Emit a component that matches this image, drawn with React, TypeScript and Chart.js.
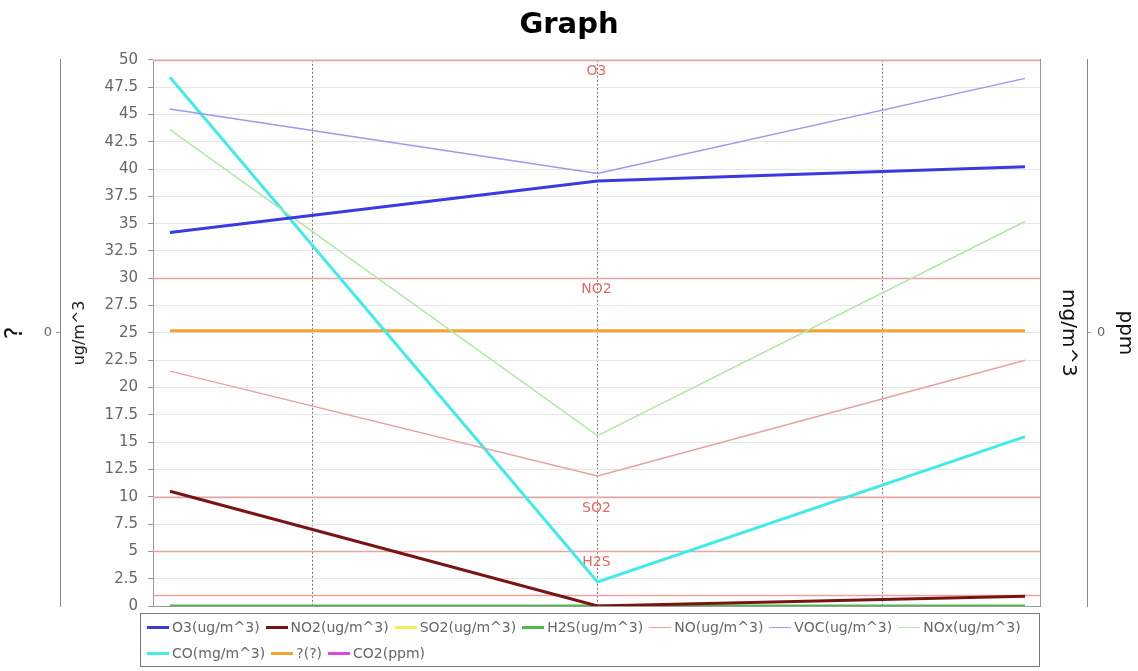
import React, { useEffect, useRef } from "react";
import { Chart, registerables } from "chart.js";

Chart.register(...registerables);

const FONT = "'DejaVu Sans', sans-serif";

// Sample positions along the (unlabelled) horizontal axis and its grid ticks
const xValues = [0, 3, 6];
const xGridTicks = [1, 3, 5];

// Series
const seriesNames = [
  "O3(ug/m^3)",
  "NO2(ug/m^3)",
  "SO2(ug/m^3)",
  "H2S(ug/m^3)",
  "NO(ug/m^3)",
  "VOC(ug/m^3)",
  "NOx(ug/m^3)",
  "CO(mg/m^3)",
  "?(?)",
  "CO2(ppm)",
];
const o3 = [34.2, 38.9, 40.2];
const no2 = [10.5, 0, 0.9];
const so2: (number | null)[] = [null, null, null];
const h2s = [0, 0, 0];
const no = [21.5, 11.9, 22.5];
const voc = [45.5, 39.6, 48.3];
const nox = [43.6, 15.6, 35.2];
const co = [48.4, 2.2, 15.5];
const unknown = [25.2, 25.2, 25.2];
const co2: (number | null)[] = [null, null, null];
const seriesValues = [o3, no2, so2, h2s, no, voc, nox, co, unknown, co2];

const seriesColors = [
  "#3a3ae0",
  "#7a1414",
  "#f2ee5a",
  "#4cbb4c",
  "#eaa0a0",
  "#9a9aec",
  "#b4e6ac",
  "#46e8e8",
  "#f2a534",
  "#e044e0",
];
const seriesWidths = [3, 3, 3, 3, 1.5, 1.5, 1.5, 3, 3, 3];

// Threshold markers on the main axis
const thresholdValues = [50, 30, 10, 5, 1];
const thresholdLabels = ["O3", "NO2", "SO2", "H2S", ""];

// Axis settings
const yMin = 0;
const yMax = 50;
const yStep = 2.5;

const framePlugin = {
  id: "frame",
  beforeDatasetsDraw(chart: any) {
    const { ctx, chartArea } = chart;
    ctx.save();
    ctx.strokeStyle = "#999";
    ctx.lineWidth = 1;
    ctx.strokeRect(
      Math.round(chartArea.left) + 0.5,
      Math.round(chartArea.top) + 0.5,
      Math.round(chartArea.right - chartArea.left),
      Math.round(chartArea.bottom - chartArea.top)
    );
    ctx.restore();
  },
};

const thresholdPlugin = {
  id: "thresholds",
  beforeDatasetsDraw(chart: any) {
    const { ctx, chartArea, scales } = chart;
    const y = scales.y;
    ctx.save();
    thresholdValues.forEach((v, i) => {
      const py = Math.round(y.getPixelForValue(v)) + 0.5;
      ctx.strokeStyle = "#e8a4a4";
      ctx.lineWidth = 1.5;
      ctx.beginPath();
      ctx.moveTo(chartArea.left, py);
      ctx.lineTo(chartArea.right, py);
      ctx.stroke();
      const label = thresholdLabels[i];
      if (label) {
        ctx.fillStyle = "#e06a6a";
        ctx.font = `14px ${FONT}`;
        ctx.textAlign = "center";
        ctx.textBaseline = "top";
        ctx.fillText(label, (chartArea.left + chartArea.right) / 2, py + 4);
      }
    });
    ctx.restore();
  },
};

export default function App() {
  const canvasRef = useRef<HTMLCanvasElement | null>(null);

  useEffect(() => {
    const canvas = canvasRef.current;
    if (!canvas) return;
    const chart = new Chart(canvas, {
      type: "line",
      data: {
        datasets: seriesNames.map((name, i) => ({
          label: name,
          data: xValues.map((x, j) => ({ x, y: seriesValues[i][j] as any })),
          borderColor: seriesColors[i],
          backgroundColor: seriesColors[i],
          borderWidth: seriesWidths[i],
          pointRadius: 0,
          tension: 0,
          yAxisID: "y",
        })),
      },
      options: {
        animation: false,
        responsive: false,
        layout: { padding: { left: 0, right: 0, top: 0, bottom: 65 } },
        plugins: {
          legend: { display: false },
          tooltip: { enabled: false },
          title: {
            display: true,
            text: "Graph",
            color: "#000",
            font: { family: FONT, size: 29, weight: "bold" },
            padding: { top: 8, bottom: 17 },
          },
        },
        scales: {
          x: {
            type: "linear",
            min: -0.119,
            max: 6.105,
            afterBuildTicks: (s: any) => {
              s.ticks = xGridTicks.map((v) => ({ value: v }));
            },
            ticks: { display: false },
            grid: { color: "#777", drawTicks: false, lineWidth: 1 },
            border: { display: false, dash: [2, 2] },
          },
          y: {
            type: "linear",
            position: "left",
            weight: 0,
            min: yMin,
            max: yMax,
            ticks: {
              stepSize: yStep,
              color: "#666",
              padding: 10,
              font: { family: FONT, size: 15 },
            },
            grid: { color: "#e6e6e6", tickColor: "#999", tickLength: 5 },
            border: { display: false },
            title: {
              display: true,
              text: "ug/m^3",
              color: "#222",
              font: { family: FONT, size: 16 },
              padding: { top: 10, bottom: 0 },
            },
            afterFit: (s: any) => {
              s.width = 93;
            },
          },
          yQ: {
            type: "linear",
            position: "left",
            weight: 1,
            min: -1,
            max: 1,
            afterBuildTicks: (s: any) => {
              s.ticks = [{ value: 0 }];
            },
            ticks: { color: "#666", padding: 4, font: { family: FONT, size: 13 } },
            grid: { drawOnChartArea: false, tickLength: 4, tickColor: "#999" },
            border: { display: true, color: "#888" },
            title: {
              display: true,
              text: "?",
              color: "#111",
              font: { family: FONT, size: 24 },
              padding: { top: 1, bottom: 0 },
            },
            afterFit: (s: any) => {
              s.width = 60;
            },
          },
          yMg: {
            type: "linear",
            position: "right",
            weight: 0,
            min: 0,
            max: 1,
            ticks: { display: false },
            grid: { drawOnChartArea: false, drawTicks: false },
            border: { display: true, color: "#888" },
            title: {
              display: true,
              text: "mg/m^3",
              color: "#111",
              font: { family: FONT, size: 20 },
              padding: { top: 7, bottom: 0 },
            },
            afterFit: (s: any) => {
              s.width = 47;
            },
          },
          yPpm: {
            type: "linear",
            position: "right",
            weight: 1,
            min: -1,
            max: 1,
            afterBuildTicks: (s: any) => {
              s.ticks = [{ value: 0 }];
            },
            ticks: { color: "#666", padding: 6, font: { family: FONT, size: 13 } },
            grid: { drawOnChartArea: false, tickLength: 4, tickColor: "#999" },
            border: { display: true, color: "#888" },
            title: {
              display: true,
              text: "ppm",
              color: "#111",
              font: { family: FONT, size: 20 },
              padding: { top: 1, bottom: 0 },
            },
            afterFit: (s: any) => {
              s.width = 51;
            },
          },
        },
      } as any,
      plugins: [framePlugin, thresholdPlugin],
    });
    return () => chart.destroy();
  }, []);

  const legendRow = (start: number, end: number) => (
    <div style={{ display: "flex", height: 26, alignItems: "center" }}>
      {seriesNames.slice(start, end).map((name, k) => {
        const i = start + k;
        return (
          <div key={i} style={{ display: "flex", alignItems: "center", marginRight: 6 }}>
            <span
              style={{
                display: "inline-block",
                width: 22,
                height: seriesWidths[i] > 2 ? 3 : 1,
                background: seriesColors[i],
                marginRight: 3,
              }}
            />
            <span style={{ whiteSpace: "nowrap" }}>{name}</span>
          </div>
        );
      })}
    </div>
  );

  return (
    <div style={{ position: "fixed", left: 0, top: 0, width: 1138, height: 671, background: "#fff" }}>
      <canvas ref={canvasRef} width={1138} height={671} style={{ width: 1138, height: 671, display: "block" }} />
      <div
        style={{
          position: "absolute",
          left: 140,
          top: 613,
          width: 900,
          height: 54,
          boxSizing: "border-box",
          border: "1px solid #777",
          padding: "0 0 0 6px",
          fontFamily: FONT,
          fontSize: 14,
          color: "#666",
        }}
      >
        {legendRow(0, 7)}
        {legendRow(7, 10)}
      </div>
    </div>
  );
}
